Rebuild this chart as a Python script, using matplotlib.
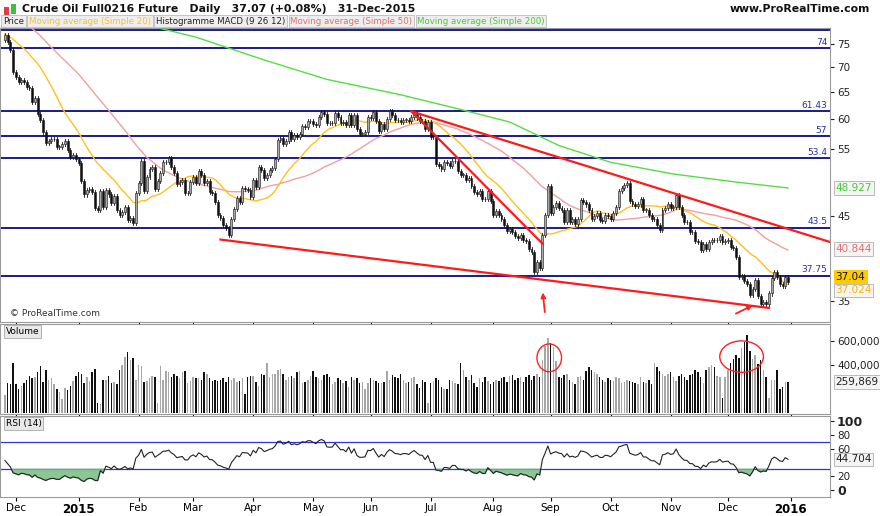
import numpy as np
import matplotlib
matplotlib.use("Agg")
import matplotlib.pyplot as plt
from matplotlib.patches import Rectangle, Ellipse, FancyArrowPatch
from matplotlib.ticker import FixedLocator, NullLocator, FixedFormatter

# ---------------- data ----------------
pre_closes = [93.5,92.9,93.3,92.3,91.7,94.4,93.1,92.8,93.0,91.6,90.4,89.7,88.9,89.7,90.0,88.0,88.5,87.0,85.5,85.8,
              85.8,84.0,83.0,82.0,81.8,82.0,80.5,81.5,82.3,81.0,80.5,81.0,80.7,78.8,78.7,77.2,77.9,77.9,77.4,78.7,
              77.7,75.6,74.2,75.5,75.9,74.6,76.5,75.6,76.0,75.8]
month_labels = ["", "Dec", "2015", "Feb", "Mar", "Apr", "May", "Jun", "Jul", "Aug", "Sep", "Oct", "Nov", "Dec"]
c_nov14 = [77.0, 75.5, 73.7, 69.0]
c_dec14 = [68.0, 66.9, 67.4, 67.0, 66.0, 65.8, 63.1, 63.8, 60.9, 59.9, 57.8, 55.9, 56.3, 56.5, 56.5, 55.3, 55.3, 55.8, 56.2, 54.7, 53.6, 53.9, 53.3]
c_jan15 = [52.7, 50.0, 48.0, 48.6, 48.8, 48.4, 46.1, 45.9, 48.5, 46.3, 48.7, 48.0, 46.8, 47.8, 45.9, 45.2, 45.6, 46.2, 44.5, 44.8, 44.1, 48.2]
c_feb15 = [49.6, 53.0, 48.5, 50.5, 51.7, 52.0, 48.8, 50.0, 51.2, 52.8, 52.8, 53.5, 52.1, 51.2, 49.5, 49.8, 50.1, 48.2, 48.2, 49.8]
c_mar15 = [50.5, 49.6, 51.5, 50.8, 49.6, 50.0, 48.3, 48.2, 47.0, 45.2, 44.8, 43.9, 43.5, 42.6, 44.7, 46.0, 47.5, 47.0, 48.9, 48.8, 48.7, 47.6]
c_apr15 = [50.1, 49.1, 52.0, 51.6, 50.4, 50.9, 51.6, 51.9, 53.3, 56.4, 56.7, 55.7, 56.3, 57.7, 56.6, 57.2, 56.9, 57.4, 58.8, 58.6, 59.6, 59.6]
c_may15 = [59.2, 58.9, 60.4, 61.2, 60.9, 59.4, 59.3, 59.4, 61.1, 60.3, 59.4, 59.5, 58.9, 60.7, 58.9, 60.7, 58.3, 57.5, 57.5, 57.7, 60.3]
c_jun15 = [60.2, 61.2, 59.6, 58.0, 59.1, 58.2, 60.1, 61.4, 60.8, 59.9, 59.8, 59.5, 59.9, 59.9, 59.6, 60.4, 61.0, 60.3, 59.7, 59.6, 58.3, 59.5]
c_jul15 = [56.9, 56.9, 52.5, 52.3, 51.7, 52.8, 52.7, 52.2, 53.0, 53.0, 51.4, 50.9, 50.9, 50.1, 50.4, 49.2, 48.4, 48.1, 48.5, 47.4, 47.3, 48.5, 47.1]
c_aug15 = [45.2, 45.7, 45.2, 44.7, 43.9, 43.1, 43.3, 43.0, 42.5, 42.2, 42.6, 41.9, 41.8, 40.8, 40.5, 38.2, 39.3, 38.6, 42.6, 45.2, 49.2]
c_sep15 = [45.4, 46.3, 46.8, 46.1, 45.9, 44.2, 45.9, 44.2, 44.6, 44.0, 44.6, 47.2, 47.0, 46.6, 45.8, 44.6, 45.0, 45.4, 44.5, 44.4, 45.2, 45.1]
c_oct15 = [44.7, 45.5, 46.3, 48.5, 48.9, 49.4, 49.6, 47.1, 46.7, 46.4, 46.6, 47.3, 45.9, 45.9, 45.2, 44.6, 44.6, 43.9, 43.2, 45.9, 46.1, 46.6]
c_nov15 = [46.1, 46.3, 47.9, 46.3, 45.2, 44.3, 44.2, 43.0, 42.9, 41.8, 41.7, 40.7, 41.5, 40.8, 41.7, 42.0, 41.9, 42.0, 42.5, 41.7, 41.8]
c_dec15 = [41.9, 41.1, 41.0, 39.9, 37.6, 37.7, 37.2, 36.8, 35.6, 36.3, 37.3, 35.5, 34.7, 34.9, 34.7, 35.8, 37.5, 38.1, 37.6, 36.8, 36.6, 37.6, 37.07]

v_nov14 = [150, 250, 240, 420]
v_dec14 = [240, 200, 230, 250, 280, 310, 290, 300, 340, 390, 260, 360, 280, 290, 240, 200, 180, 120, 210, 190, 230, 270, 310]
v_jan15 = [340, 330, 250, 300, 270, 340, 370, 90, 80, 280, 280, 310, 250, 260, 240, 360, 400, 470, 510, 440, 460, 280]
v_feb15 = [400, 390, 260, 270, 290, 310, 300, 90, 390, 280, 350, 340, 300, 330, 310, 290, 340, 350, 250, 270]
v_mar15 = [300, 290, 290, 280, 340, 330, 290, 270, 280, 270, 280, 290, 260, 300, 280, 290, 260, 270, 290, 160, 300, 310]
v_apr15 = [310, 260, 230, 330, 320, 420, 300, 330, 330, 360, 370, 330, 280, 300, 310, 290, 340, 350, 250, 260, 280, 310]
v_may15 = [350, 300, 290, 280, 320, 330, 300, 240, 260, 290, 280, 250, 270, 220, 300, 280, 290, 250, 260, 200, 250]
v_jun15 = [290, 280, 270, 250, 250, 260, 350, 280, 320, 300, 290, 330, 280, 250, 260, 290, 300, 240, 210, 280, 260, 90]
v_jul15 = [250, 270, 290, 280, 220, 200, 200, 280, 270, 250, 240, 420, 360, 300, 280, 320, 250, 220, 290, 260, 300, 270, 240]
v_aug15 = [260, 280, 270, 290, 300, 260, 310, 320, 280, 290, 300, 260, 300, 320, 280, 310, 330, 300, 440, 560, 620]
v_sep15 = [580, 550, 430, 300, 290, 320, 330, 280, 260, 240, 300, 310, 280, 350, 380, 360, 340, 330, 300, 280, 260, 290]
v_oct15 = [280, 270, 300, 290, 250, 260, 280, 270, 260, 250, 240, 300, 260, 250, 280, 240, 420, 380, 350, 330, 310, 330]
v_nov15 = [340, 300, 270, 310, 330, 300, 280, 320, 330, 360, 340, 300, 250, 360, 380, 400, 380, 310, 300, 130, 300]
v_dec15 = [360, 420, 450, 480, 460, 540, 590, 650, 520, 450, 480, 410, 440, 360, 300, 130, 280, 280, 360, 200, 220, 260, 259.869]

# SMA200 estimates (trading-day index, value)
sma200_idx = [57, 70, 95, 118, 145, 165, 185, 203, 222, 245, 268, 287]
sma200_val = [78.5, 76.5, 71.5, 67.5, 64.5, 62.0, 59.5, 55.5, 52.8, 51.0, 49.8, 48.93]

hlines = [78.1, 74, 61.43, 57, 53.4, 43.5, 37.75]
hline_labels = ["", "74", "61.43", "57", "53.4", "43.5", "37.75"]
trend1 = ([149, 302.4], [61.4, 41.7])
trend2 = ([149, 197], [61.4, 41.5])
trend3 = ([79, 280], [42.0, 34.3])

# ---------------- prep ----------------
months_c = [c_nov14, c_dec14, c_jan15, c_feb15, c_mar15, c_apr15, c_may15, c_jun15,
            c_jul15, c_aug15, c_sep15, c_oct15, c_nov15, c_dec15]
months_v = [v_nov14, v_dec14, v_jan15, v_feb15, v_mar15, v_apr15, v_may15, v_jun15,
            v_jul15, v_aug15, v_sep15, v_oct15, v_nov15, v_dec15]
closes = np.array(sum(months_c, []))
vols = np.array(sum(months_v, [])) * 1000
n = len(closes)
full = np.concatenate([pre_closes, closes])
opens = np.concatenate([[pre_closes[-1]], closes[:-1]])
x = np.arange(n)
starts = np.cumsum([0] + [len(m) for m in months_c])
month_ticks = list(starts[1:-1]) + [n]
month_ticklabels = month_labels[1:] + ["2016"]

def sma(arr, w):
    return np.array([arr[i - w + 1:i + 1].mean() for i in range(len(pre_closes), len(arr))])
sma20 = sma(full, 20)
sma50 = sma(full, 50)

d = np.diff(full)
gain = np.where(d > 0, d, 0); loss = np.where(d < 0, -d, 0)
ag = gain[:14].mean(); al = loss[:14].mean(); rsi_all = []
for i in range(14, len(d)):
    ag = (ag * 13 + gain[i]) / 14; al = (al * 13 + loss[i]) / 14
    rsi_all.append(100 - 100 / (1 + ag / al))
rsi = np.array(rsi_all[-n:])

# ---------------- figure ----------------
W, H = 880, 516
fig = plt.figure(figsize=(W / 100, H / 100), dpi=100)

def ax_at(top, bottom):
    return fig.add_axes([0, 1 - bottom / H, 830 / W, (bottom - top) / H])

ax = ax_at(28, 322)
axv = ax_at(324, 414)
axr = ax_at(416, 497)
xlim = (-1.8, 302.4)
for a in (ax, axv, axr):
    a.set_xlim(*xlim)
    for s in a.spines.values():
        s.set_color("#9a9a9a"); s.set_linewidth(0.8)
    a.yaxis.tick_right()
    a.tick_params(axis="y", labelsize=7.5, length=3, pad=2, colors="#222", direction="out")
    a.set_xticks(month_ticks)
    a.tick_params(axis="x", length=3, direction="out")
    a.set_xticklabels([])

# price
ax.set_yscale("log")
ax.set_ylim(32.9, 78.6)
ax.yaxis.set_major_locator(FixedLocator([35, 45, 55, 60, 65, 70, 75]))
ax.yaxis.set_major_formatter(FixedFormatter(["35", "45", "55", "60", "65", "70", "75"]))
ax.yaxis.set_minor_locator(NullLocator())
for v, lab in zip(hlines, hline_labels):
    ax.axhline(v, color="#1a1a8c", lw=1.4, zorder=2)
    if lab:
        ax.text(xlim[1] - 1, v * 1.004, lab, color="#2b2bb0", fontsize=6.5, ha="right", va="bottom")
ax.plot(x, sma50, color="#f0a0a0", lw=1, zorder=3)
ax.plot(sma200_idx, sma200_val, color="#55dd44", lw=1, zorder=3)
ax.plot(x, sma20, color="#ffc020", lw=1, zorder=3)
for i in range(n):
    o, c = opens[i], closes[i]
    hi, lo = max(o, c) * 1.006, min(o, c) * 0.994
    ax.plot([i, i], [lo, hi], color="#111", lw=0.6, zorder=4)
    up = c >= o
    ax.add_patch(Rectangle((i - 0.35, min(o, c)), 0.7, max(abs(c - o), 0.05),
                           facecolor="#aaaaaa" if up else "#111111", edgecolor="#111", lw=0.4, zorder=5))
for t in (trend1, trend2, trend3):
    ax.plot(t[0], t[1], color="#ff1a1a", lw=1.6, zorder=6)
ax.add_patch(FancyArrowPatch((198, 33.6), (197, 36.2), arrowstyle="-|>", mutation_scale=7, color="#ff2020", lw=1.3, zorder=7))
ax.add_patch(FancyArrowPatch((267, 33.6), (275, 34.7), arrowstyle="-|>", mutation_scale=7, color="#ff2020", lw=1.3, zorder=7))
ax.text(2, 33.3, "© ProRealTime.com", fontsize=6.5, color="#333", va="bottom")

def badge(a, yv, txt, fc, tc, ec):
    a.text(xlim[1] + 2, yv, txt, fontsize=7.5, color=tc, va="center", ha="left", clip_on=False,
           bbox=dict(boxstyle="square,pad=0.15", fc=fc, ec=ec, lw=0.7), zorder=10)
badge(ax, 48.927, "48.927", "#f4f4f4", "#44cc33", "#bbbbbb")
badge(ax, 40.844, "40.844", "#f4f4f4", "#e07070", "#bbbbbb")
badge(ax, 37.6, "37.04", "#ffcc00", "#111", "#ffcc00")
badge(ax, 36.15, "37.024", "#f4f4f4", "#ffb000", "#bbbbbb")

# volume
axv.set_ylim(-5000, 740000)
axv.set_yticks([400000, 600000])
axv.set_yticklabels(["400,000", "600,000"])
colors = ["#111" if closes[i] < opens[i] else "#a8a8a8" for i in range(n)]
axv.bar(x, vols, width=0.55, color=colors, zorder=3)
axv.add_patch(Ellipse((199.5, 460000), 9, 230000, fill=False, ec="#ff2020", lw=1, zorder=5))
axv.add_patch(Ellipse((270, 470000), 16, 260000, fill=False, ec="#ff2020", lw=1, zorder=5))
badge(axv, 259869, "259,869", "#f4f4f4", "#222", "#bbbbbb")
axv.text(0.3, 715000, "Volume", fontsize=6.5, va="top", bbox=dict(boxstyle="square,pad=0.2", fc="#e8e8e8", ec="#aaa", lw=0.6))

# RSI
axr.set_ylim(-10, 107)
axr.set_yticks([0, 20, 60, 80, 100])
axr.set_yticklabels(["0", "20", "60", "80", "100"])
for lbl in axr.get_yticklabels():
    if lbl.get_text() in ("0", "100"):
        lbl.set_fontweight("bold"); lbl.set_fontsize(9)
axr.axhline(70, color="#3333dd", lw=0.9)
axr.axhline(30, color="#3333dd", lw=0.9)
axr.fill_between(x, rsi, 30, where=rsi < 30, interpolate=True, color="#6fb87a", alpha=0.8, zorder=2)
axr.plot(x, rsi, color="#222", lw=0.8, zorder=3)
badge(axr, 44.704, "44.704", "#f4f4f4", "#222", "#bbbbbb")
axr.text(0.3, 103, "RSI (14)", fontsize=6.5, va="top", bbox=dict(boxstyle="square,pad=0.2", fc="#e8e8e8", ec="#aaa", lw=0.6))
axr.set_xticklabels(month_ticklabels)
axr.tick_params(axis="x", labelsize=7.5, pad=1)
for lbl in axr.get_xticklabels():
    if lbl.get_text() in ("2015", "2016"):
        lbl.set_fontweight("bold"); lbl.set_fontsize(8.5)

# header
fig.text(22 / W, 1 - 9 / H, "Crude Oil Full0216 Future   Daily   37.07 (+0.08%)   31-Dec-2015",
         fontsize=7.8, fontweight="bold", va="center", color="#111")
fig.text(870 / W, 1 - 9 / H, "www.ProRealTime.com", fontsize=7.8, fontweight="bold", va="center", ha="right", color="#111")
fig.patches.append(Rectangle((4 / W, 1 - 15 / H), 5 / W, 8 / H, transform=fig.transFigure, fc="#e04040", ec="none"))
fig.patches.append(Rectangle((11 / W, 1 - 14 / H), 5 / W, 10 / H, transform=fig.transFigure, fc="#40c040", ec="none"))
legend_items = [("Price", "#222"), ("Moving average (Simple 20)", "#ffc020"),
                ("Histogramme MACD (9 26 12)", "#222"), ("Moving average (Simple 50)", "#e07070"),
                ("Moving average (Simple 200)", "#44cc33")]
renderer = fig.canvas.get_renderer()
px = 3
for t, c in legend_items:
    tx = fig.text(px / W, 1 - 21 / H, t, fontsize=6.2, color=c, va="center",
                  bbox=dict(boxstyle="square,pad=0.2", fc="#eeeeee", ec="#bbbbbb", lw=0.6))
    px += tx.get_window_extent(renderer).width + 5

fig.savefig("out.png", dpi=100)
